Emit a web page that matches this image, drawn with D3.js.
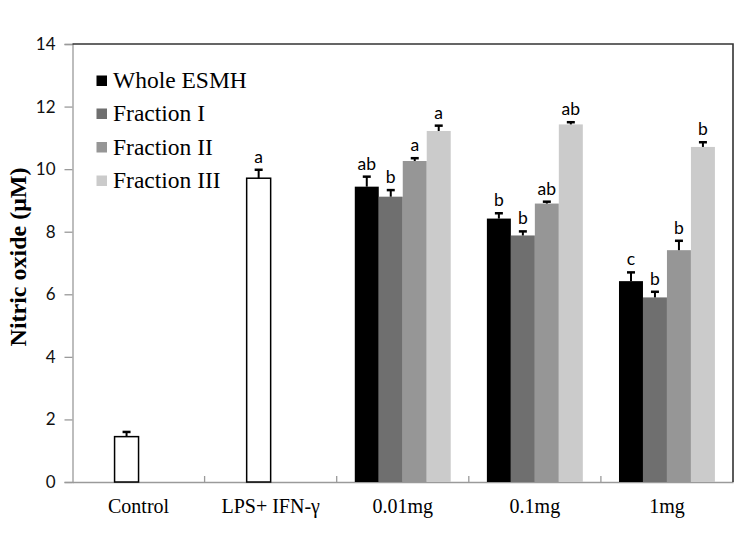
<!DOCTYPE html>
<html>
<head>
<meta charset="utf-8">
<script src="https://cdn.jsdelivr.net/npm/d3@7"></script>
<style>
  html, body { margin: 0; padding: 0; background: #fff; }
  svg { display: block; }
</style>
</head>
<body>
<svg id="chart" width="744" height="541"></svg>
<script>
const categories = ["Control", "LPS+ IFN-\u03b3", "0.01mg", "0.1mg", "1mg"];
const seriesNames = ["Whole ESMH", "Fraction I", "Fraction II", "Fraction III"];
const seriesColors = ["#000000", "#6f6f6f", "#969696", "#cbcbcb"];

// Control and LPS+IFN-γ (single open bars)
const refCategories = ["Control", "LPS+ IFN-\u03b3"];
const refValues = [1.45, 9.71];
const refErrors = [0.15, 0.27];
const refLetters = ["", "a"];

// Treatment doses
const doseCategories = ["0.01mg", "0.1mg", "1mg"];
const wholeValues = [9.44, 8.42, 6.42];
const wholeErrors = [0.32, 0.17, 0.28];
const wholeLetters = ["ab", "b", "c"];
const frac1Values = [9.12, 7.88, 5.90];
const frac1Errors = [0.21, 0.13, 0.18];
const frac1Letters = ["b", "b", "b"];
const frac2Values = [10.26, 8.90, 7.41];
const frac2Errors = [0.09, 0.06, 0.30];
const frac2Letters = ["a", "ab", "b"];
const frac3Values = [11.22, 11.43, 10.71];
const frac3Errors = [0.17, 0.07, 0.15];
const frac3Letters = ["a", "ab", "b"];

const yTicks = [0, 2, 4, 6, 8, 10, 12, 14];

const seriesData = [
  {name: seriesNames[0], values: wholeValues, errors: wholeErrors, letters: wholeLetters},
  {name: seriesNames[1], values: frac1Values, errors: frac1Errors, letters: frac1Letters},
  {name: seriesNames[2], values: frac2Values, errors: frac2Errors, letters: frac2Letters},
  {name: seriesNames[3], values: frac3Values, errors: frac3Errors, letters: frac3Letters}
];

const mLeft = 72.5, mRight = 733, mTop = 44, mBottom = 482;
const svg = d3.select("#chart");

const x0 = d3.scaleBand().domain(categories).range([mLeft, mRight]).padding(0);
const x1 = d3.scaleBand().domain(seriesNames).range([0, x0.bandwidth()]).paddingInner(0).paddingOuter(0.754);
const y = d3.scaleLinear().domain([0, 14]).range([mBottom, mTop]);
const color = d3.scaleOrdinal().domain(seriesNames).range(seriesColors);

// Y axis
const yAxis = d3.axisLeft(y).tickValues(yTicks).tickSize(8).tickPadding(9).tickFormat(d3.format("d"));
const gy = svg.append("g").attr("transform", `translate(${mLeft},0)`).call(yAxis);
gy.select(".domain").attr("stroke", "#9a9a9a").attr("stroke-width", 1.3);
gy.selectAll(".tick line").attr("stroke", "#9a9a9a").attr("stroke-width", 1.3);
gy.selectAll(".tick text").attr("font-family", "Lato, 'Open Sans', sans-serif").attr("font-size", 17).attr("fill", "#111");

// X axis (ticks between categories, pointing up)
const xAxis = d3.axisBottom(x0).tickSize(0).tickPadding(17);
const gx = svg.append("g").attr("transform", `translate(0,${mBottom})`).call(xAxis);
gx.select(".domain").attr("stroke", "#9a9a9a").attr("stroke-width", 1.3);
gx.selectAll(".tick text").attr("font-family", "'Liberation Serif', 'Times New Roman', serif").attr("font-size", 20).attr("fill", "#000");
gx.selectAll(".tick line").remove();
const boundaries = categories.slice(1).map(c => x0(c));
gx.selectAll(".bound").data(boundaries).join("line")
  .attr("class", "bound")
  .attr("x1", d => d).attr("x2", d => d)
  .attr("y1", 0).attr("y2", -6)
  .attr("stroke", "#9a9a9a").attr("stroke-width", 1.3);

// frame: top and right
svg.append("path")
  .attr("d", `M${mLeft},${mTop}H${mRight}V${mBottom}`)
  .attr("fill", "none").attr("stroke", "#333").attr("stroke-width", 1.6);

// Y title
svg.append("text")
  .attr("transform", `translate(26,257) rotate(-90)`)
  .attr("text-anchor", "middle")
  .attr("font-family", "'Liberation Serif', 'Times New Roman', serif")
  .attr("font-weight", "bold")
  .attr("font-size", 24)
  .text("Nitric oxide (\u03bcM)");

const bw = x1.bandwidth();
const letterFont = "Lato, 'Open Sans', sans-serif";

function errBar(g, cx, v, e) {
  g.append("line").attr("x1", cx).attr("x2", cx).attr("y1", y(v)).attr("y2", y(v + e))
    .attr("stroke", "#000").attr("stroke-width", 2);
  g.append("line").attr("x1", cx - 4).attr("x2", cx + 4).attr("y1", y(v + e)).attr("y2", y(v + e))
    .attr("stroke", "#000").attr("stroke-width", 2.5);
}
function letter(g, cx, v, e, t) {
  if (!t) return;
  g.append("text").attr("x", cx).attr("y", y(v + e) - 7)
    .attr("text-anchor", "middle").attr("font-family", letterFont).attr("font-size", 17.5)
    .attr("fill", "#000").text(t);
}

// Reference bars (open)
const gRef = svg.append("g");
refCategories.forEach((c, i) => {
  const bx = x0(c) + x1(seriesNames[1]);
  gRef.append("rect").attr("x", bx).attr("y", y(refValues[i]))
    .attr("width", bw).attr("height", y(0) - y(refValues[i]))
    .attr("fill", "#fff").attr("stroke", "#000").attr("stroke-width", 1.5);
  errBar(gRef, bx + bw / 2, refValues[i], refErrors[i]);
  letter(gRef, bx + bw / 2, refValues[i], refErrors[i], refLetters[i]);
});

// Treatment bars
const gBars = svg.append("g");
seriesData.forEach(s => {
  doseCategories.forEach((c, i) => {
    const bx = x0(c) + x1(s.name);
    gBars.append("rect").attr("x", bx).attr("y", y(s.values[i]))
      .attr("width", bw).attr("height", y(0) - y(s.values[i]))
      .attr("fill", color(s.name));
    errBar(gBars, bx + bw / 2, s.values[i], s.errors[i]);
    letter(gBars, bx + bw / 2, s.values[i], s.errors[i], s.letters[i]);
  });
});

// Legend
const legendCenters = [80.5, 113.5, 147, 180.5];
const lg = svg.append("g");
seriesNames.forEach((n, i) => {
  lg.append("rect").attr("x", 96.5).attr("y", legendCenters[i] - 5).attr("width", 10.5).attr("height", 10.5)
    .attr("fill", color(n));
  lg.append("text").attr("x", 113).attr("y", legendCenters[i] + 7.5)
    .attr("font-family", "'Liberation Serif', 'Times New Roman', serif").attr("font-size", 23.5)
    .attr("fill", "#000").text(n);
});
</script>
</body>
</html>
